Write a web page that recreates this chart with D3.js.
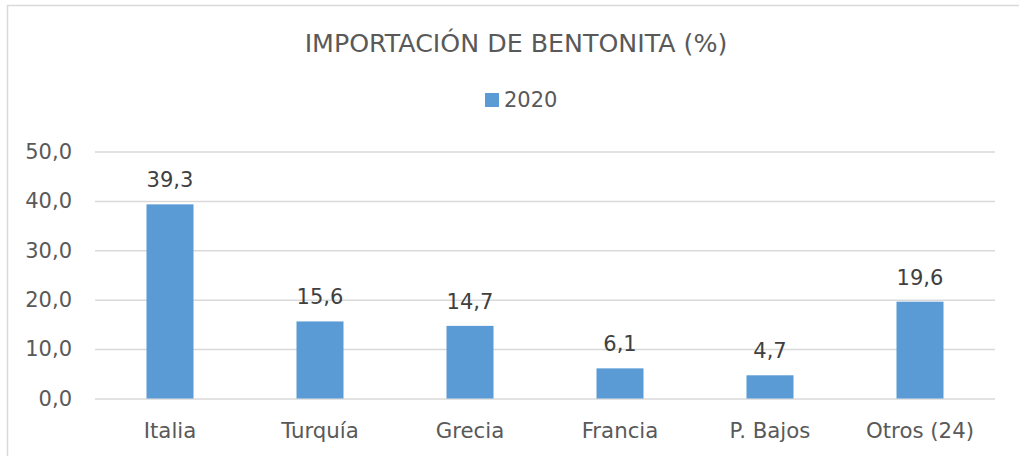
<!DOCTYPE html>
<meta charset="utf-8">
<style>
  body { margin: 0; background: #fff; }
  text { font-family: "DejaVu Sans", sans-serif; fill: #595959; }
</style>
<body>
<div id="chart"></div>
<script src="https://d3js.org/d3.v7.min.js"></script>
<script>
const countries = ["Italia", "Turquía", "Grecia", "Francia", "P. Bajos", "Otros (24)"];
const values2020 = [39.3, 15.6, 14.7, 6.1, 4.7, 19.6];
const yTicks = [0, 10, 20, 30, 40, 50];
const seriesName = "2020";
const title = "IMPORTACIÓN DE BENTONITA (%)";

const W = 1019, H = 456;
const fmt = d => d.toFixed(1).replace(".", ",");

const svg = d3.select("#chart").append("svg")
    .attr("width", W)
    .attr("height", H);

// chart area border (right/bottom run off the picture)
svg.append("rect")
    .attr("x", 7.5).attr("y", 5.5)
    .attr("width", W + 20).attr("height", H + 20)
    .attr("fill", "none")
    .attr("stroke", "#d9d9d9")
    .attr("stroke-width", 1.5);

const plot = { left: 95, right: 995, top: 151.5, bottom: 398.5 };

const x = d3.scaleBand()
    .domain(countries)
    .range([plot.left, plot.right])
    .paddingInner(1 - 47 / 150)
    .paddingOuter((1 - 47 / 150) / 2);

const y = d3.scaleLinear()
    .domain([0, 50])
    .range([plot.bottom, plot.top]);

// gridlines + y labels
const yAxis = svg.append("g")
    .attr("transform", `translate(${plot.left},0)`)
    .call(d3.axisLeft(y).tickValues(yTicks).tickFormat(fmt).tickSize(0).tickPadding(23))
    .call(g => g.select(".domain").remove());
yAxis.selectAll(".tick line").clone()
    .attr("x2", plot.right - plot.left)
    .attr("stroke", "#d9d9d9")
    .attr("stroke-width", 1.5);
yAxis.selectAll(".tick text")
    .attr("font-size", 21)
    .attr("fill", "#595959")
    .attr("font-family", "DejaVu Sans, sans-serif");

// x labels
const xAxis = svg.append("g")
    .attr("transform", `translate(0,${plot.bottom})`)
    .call(d3.axisBottom(x).tickSize(0).tickPadding(24))
    .call(g => g.select(".domain").remove());
xAxis.selectAll(".tick text")
    .attr("font-size", 21.3)
    .attr("fill", "#595959")
    .attr("font-family", "DejaVu Sans, sans-serif");

// bars
const rows = countries.map((c, i) => ({ c, v: values2020[i] }));
svg.selectAll(".bar")
  .data(rows)
  .join("rect")
    .attr("class", "bar")
    .attr("x", d => x(d.c))
    .attr("width", x.bandwidth())
    .attr("y", d => y(d.v))
    .attr("height", d => y(0) - y(d.v))
    .attr("fill", "#5b9bd5");

// data labels
svg.selectAll(".lbl")
  .data(rows)
  .join("text")
    .attr("class", "lbl")
    .attr("x", d => x(d.c) + x.bandwidth() / 2)
    .attr("y", d => y(d.v) - 17)
    .attr("text-anchor", "middle")
    .attr("font-size", 21)
    .style("fill", "#404040")
    .text(d => fmt(d.v));

// title
svg.append("text")
    .attr("x", 516).attr("y", 52)
    .attr("text-anchor", "middle")
    .attr("font-size", 25.3)
    .text(title);

// legend
svg.append("rect")
    .attr("x", 485).attr("y", 93)
    .attr("width", 14).attr("height", 14)
    .attr("fill", "#5b9bd5");
svg.append("text")
    .attr("x", 504).attr("y", 107)
    .attr("font-size", 21)
    .text(seriesName);
</script>
</body>
